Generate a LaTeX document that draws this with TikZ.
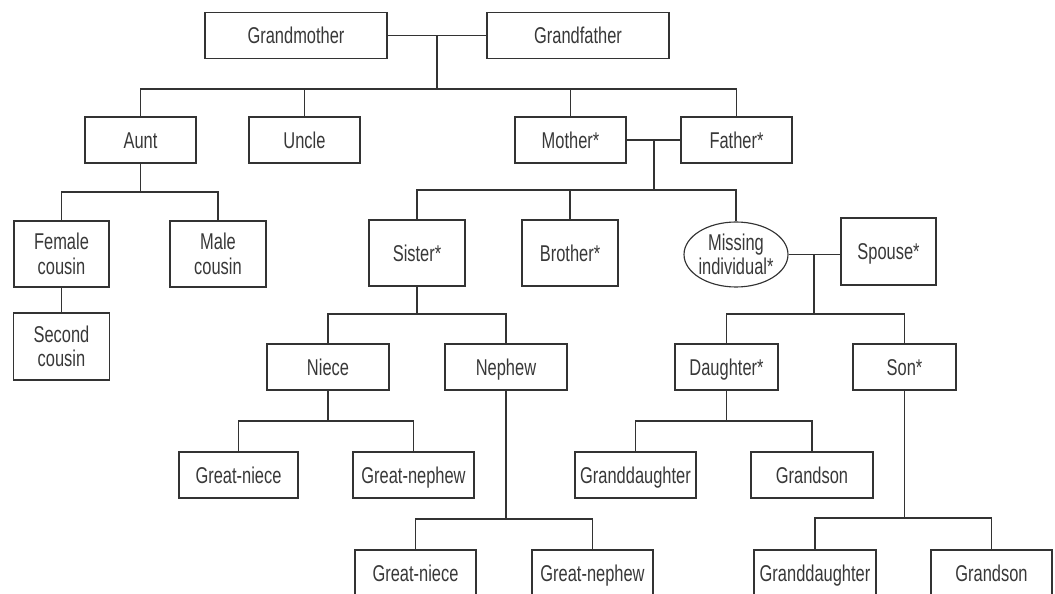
\documentclass[tikz,border=0pt]{standalone}
\usepackage{fontspec}
\setmainfont[FakeStretch=0.72]{Liberation Sans}
\usetikzlibrary{shapes.geometric}

\tikzset{
  person/.style={draw=black!80, line width=0.65pt, text=black!78, rectangle, inner sep=0pt,
    minimum height=0.92cm, align=center, text height=10pt, text depth=0.8pt,
    font=\fontsize{13}{13.9}\selectfont},
  tall/.style={person, minimum height=1.32cm},
  twoline/.style={text height={}, text depth={}},
  link/.style={draw=black!80, line width=0.65pt}
}

\begin{document}
\begin{tikzpicture}[x=0.02cm, y=-0.02cm]
			\useasboundingbox (0,0) rectangle (1055,594);
			\clip (0,0) rectangle (1055,594);

			% grandparents and their children
			\node[person, minimum width=3.64cm] (gm) at (296,35.5) {Grandmother};
			\node[person, minimum width=3.64cm] (gf) at (578,35.5) {Grandfather};
			\node[person, minimum width=2.22cm] (aunt) at (140.5,140) {Aunt};
			\node[person, minimum width=2.22cm] (uncle) at (304.5,140) {Uncle};
			\node[person, minimum width=2.22cm] (mother) at (570.5,140) {Mother*};
			\node[person, minimum width=2.22cm] (father) at (736.5,140) {Father*};

			% cousins
			\node[tall, twoline, minimum width=1.9cm] (fcousin) at (61.5,254) {Female\\cousin};
			\node[tall, twoline, minimum width=1.92cm] (mcousin) at (218,254) {Male\\cousin};
			\node[tall, twoline, minimum width=1.92cm, minimum height=1.34cm] (scousin) at (61.5,346.5) {Second\\cousin};

			% siblings
			\node[tall, minimum width=1.92cm] (sister) at (417,253) {Sister*};
			\node[tall, minimum width=1.92cm] (brother) at (570,253) {Brother*};
			\node[person, twoline, ellipse, inner xsep=-0.18cm, inner ysep=0pt, minimum width=2.08cm, minimum height=1.3cm] (missing) at (736,254.5) {Missing\\individual*};
			\node[tall, minimum width=1.9cm, minimum height=1.34cm] (spouse) at (888.5,251.5) {Spouse*};

			% next generation
			\node[person, minimum width=2.44cm] (niece) at (328,367) {Niece};
			\node[person, minimum width=2.44cm] (nephew) at (506,367) {Nephew};
			\node[person, minimum width=2.06cm] (daughter) at (726.5,367) {Daughter*};
			\node[person, minimum width=2.06cm] (son) at (904.5,367) {Son*};

			\node[person, minimum width=2.38cm] (gniece) at (238.5,475) {Great-niece};
			\node[person, minimum width=2.42cm] (gnephew) at (413.5,475) {Great-nephew};
			\node[person, minimum width=2.42cm] (gdaughter) at (635.5,475) {Granddaughter};
			\node[person, minimum width=2.44cm] (gson) at (812,475) {Grandson};

			\node[person, minimum width=2.42cm] (ngniece) at (415.5,573) {Great-niece};
			\node[person, minimum width=2.42cm] (ngnephew) at (592.5,573) {Great-nephew};
			\node[person, minimum width=2.44cm] (sgdaughter) at (815,573) {Granddaughter};
			\node[person, minimum width=2.42cm] (sgson) at (991.5,573) {Grandson};

			% junctions
			\coordinate (gbar) at (437,89);
			\coordinate (pbar) at (654,190);
			\coordinate (abar) at (140.5,192);
			\coordinate (sbar) at (417,314);
			\coordinate (mbar) at (814,314);
			\coordinate (nbar) at (328,421);
			\coordinate (dbar) at (726.5,421);
			\coordinate (nnbar) at (506,519);
			\coordinate (snbar) at (904.5,518);

			\draw[link] (gm) -- (gf);
			\draw[link] (gbar |- gm.east) -- (gbar);
			\draw[link] (aunt.north) |- (gbar) -| (father.north);
			\draw[link] (uncle.north) -- (uncle.north |- gbar);
			\draw[link] (mother.north) -- (mother.north |- gbar);

			\draw[link] (aunt) -- (abar);
			\draw[link] (fcousin.north) |- (abar) -| (mcousin.north);
			\draw[link] (fcousin) -- (scousin);

			\draw[link] (mother) -- (father);
			\draw[link] (pbar |- mother.east) -- (pbar);
			\draw[link] (sister.north) |- (pbar) -| (missing.north);
			\draw[link] (brother.north) -- (brother.north |- pbar);

			\draw[link] (missing.east) -- (missing.east -| spouse.west);
			\draw[link] (mbar |- missing.east) -- (mbar);
			\draw[link] (daughter.north) |- (mbar) -| (son.north);

			\draw[link] (sister) -- (sbar);
			\draw[link] (niece.north) |- (sbar) -| (nephew.north);
			\draw[link] (niece) -- (nbar);
			\draw[link] (gniece.north) |- (nbar) -| (gnephew.north);
			\draw[link] (nephew) -- (nnbar);
			\draw[link] (ngniece.north) |- (nnbar) -| (ngnephew.north);

			\draw[link] (daughter) -- (dbar);
			\draw[link] (gdaughter.north) |- (dbar) -| (gson.north);
			\draw[link] (son) -- (snbar);
			\draw[link] (sgdaughter.north) |- (snbar) -| (sgson.north);
\end{tikzpicture}
\end{document}
